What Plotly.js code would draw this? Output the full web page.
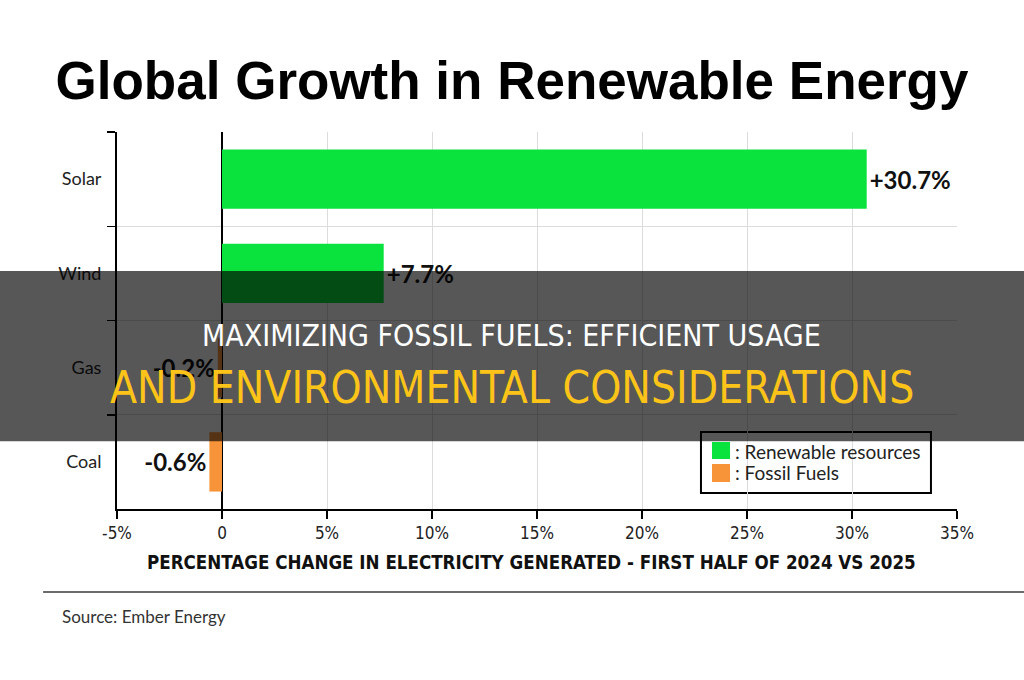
<!DOCTYPE html>
<html>
<head>
<meta charset="utf-8">
<script src="https://cdn.plot.ly/plotly-3.0.1.min.js"></script>
<style>html,body{margin:0;padding:0;background:#fff;}#chart{width:1024px;height:680px;}</style>
</head>
<body>
<div id="chart"></div>
<script>
// ---- data ----
var categories = ['Solar', 'Wind', 'Gas', 'Coal'];
var renewableCats = ['Solar', 'Wind'];
var renewableValues = [30.7, 7.7];
var fossilCats = ['Gas', 'Coal'];
var fossilValues = [-0.2, -0.6];
var xTickVals = [-5, 0, 5, 10, 15, 20, 25, 30, 35];
var xTickText = ['-5%', '0', '5%', '10%', '15%', '20%', '25%', '30%', '35%'];
var seriesNames = [': Renewable resources', ': Fossil Fuels'];

function fmt(v) { return (v > 0 ? '+' : '-') + Math.abs(v).toFixed(1) + '%'; }

var green = '#0ae23e';
var orange = '#f7943a';
var labelFont = {family: 'Lato, "Noto Sans", sans-serif', size: 24, color: '#111', weight: 700};
var legendFont = {family: 'Lato, "Noto Sans", sans-serif', size: 19, color: '#222'};

var traces = [
  {type: 'bar', orientation: 'h', name: seriesNames[0], y: renewableCats, x: renewableValues,
   marker: {color: green}, width: 0.63, text: renewableValues.map(fmt), textposition: 'outside',
   textfont: labelFont, cliponaxis: false, constraintext: 'none', hoverinfo: 'skip', showlegend: false},
  {type: 'bar', orientation: 'h', name: seriesNames[1], y: fossilCats, x: fossilValues,
   marker: {color: orange}, width: 0.63, text: fossilValues.map(fmt), textposition: 'outside',
   textfont: labelFont, cliponaxis: false, constraintext: 'none', hoverinfo: 'skip', showlegend: false}
];

var condensed = '"Liberation Sans Narrow", "DejaVu Sans Condensed", "Roboto", sans-serif';

var layout = {
  width: 1024, height: 680,
  margin: {l: 117, r: 67, t: 132, b: 171},
  paper_bgcolor: '#fff', plot_bgcolor: '#fff',
  barmode: 'overlay',
  showlegend: false,
  title: {text: 'Global Growth in Renewable Energy', x: 0.5, xref: 'container', xanchor: 'center',
          y: 1 - 80 / 680, yref: 'container', yanchor: 'middle',
          font: {family: '"Liberation Sans", Arial, sans-serif', size: 53, color: '#000', weight: 700}},
  xaxis: {range: [-5, 35], tickvals: xTickVals, ticktext: xTickText,
          showgrid: true, gridcolor: '#dcdcdc', gridwidth: 1,
          zeroline: true, zerolinecolor: '#000', zerolinewidth: 1.5,
          showline: true, linecolor: '#000', linewidth: 2,
          ticks: 'outside', ticklen: 8, tickwidth: 1.5, tickcolor: '#000',
          tickfont: {family: condensed, size: 17, color: '#222'}, fixedrange: true},
  yaxis: {type: 'category', categoryorder: 'array', categoryarray: categories, autorange: 'reversed',
          tickson: 'boundaries', showgrid: true, gridcolor: '#dcdcdc', gridwidth: 1,
          showline: true, linecolor: '#000', linewidth: 2,
          ticks: 'outside', ticklen: 8, tickwidth: 1.5, tickcolor: '#000', ticklabelstandoff: 10,
          tickfont: {family: 'Lato, "Noto Sans", sans-serif', size: 18, color: '#222'}, fixedrange: true},
  shapes: [
    // legend box
    {type: 'rect', xref: 'paper', yref: 'paper', x0: 0.6952, x1: 0.969, y0: 0.0424, y1: 0.2042,
     fillcolor: '#fff', line: {color: '#000', width: 2}, layer: 'between'},
    {type: 'rect', xref: 'paper', yref: 'paper', x0: 0.7083, x1: 0.7298, y0: 0.1326, y1: 0.1777,
     fillcolor: green, line: {width: 0}, layer: 'between'},
    {type: 'rect', xref: 'paper', yref: 'paper', x0: 0.7083, x1: 0.7298, y0: 0.0716, y1: 0.1194,
     fillcolor: orange, line: {width: 0}, layer: 'between'},
    // source separator
    {type: 'line', xref: 'paper', yref: 'paper', x0: -0.088, x1: 1.08, y0: -0.220, y1: -0.220,
     line: {color: '#6a6a6a', width: 2}},
    // headline overlay band
    {type: 'rect', xref: 'paper', yref: 'paper', x0: -0.15, x1: 1.09, y0: 0.180, y1: 0.631,
     fillcolor: 'rgba(0,0,0,0.66)', line: {width: 0}, layer: 'above'}
  ],
  annotations: [
    {text: seriesNames[0], xref: 'paper', yref: 'paper', x: 0.7333, y: 0.1512, xanchor: 'left', yanchor: 'middle',
     showarrow: false, font: legendFont},
    {text: seriesNames[1], xref: 'paper', yref: 'paper', x: 0.7333, y: 0.0955, xanchor: 'left', yanchor: 'middle',
     showarrow: false, font: legendFont},
    {text: 'PERCENTAGE CHANGE IN ELECTRICITY GENERATED - FIRST HALF OF 2024 VS 2025',
     xref: 'paper', yref: 'paper', x: 0.493, y: -0.143, xanchor: 'center', yanchor: 'middle', showarrow: false,
     font: {family: condensed, size: 18.6, color: '#111', weight: 700}},
    {text: 'Source: Ember Energy', xref: 'paper', yref: 'paper', x: -0.068, y: -0.284,
     xanchor: 'left', yanchor: 'middle', showarrow: false,
     font: {family: 'Lato, "Noto Sans", sans-serif', size: 17, color: '#333'}},
    {text: 'MAXIMIZING FOSSIL FUELS: EFFICIENT USAGE', xref: 'paper', yref: 'paper', x: 0.47, y: 0.4615,
     xanchor: 'center', yanchor: 'middle', showarrow: false,
     font: {family: condensed, size: 30, color: '#ffffff'}},
    {text: 'AND ENVIRONMENTAL CONSIDERATIONS', xref: 'paper', yref: 'paper', x: 0.47, y: 0.3236,
     xanchor: 'center', yanchor: 'middle', showarrow: false,
     font: {family: condensed, size: 44, color: '#fcc419'}}
  ]
};

Plotly.newPlot('chart', traces, layout, {staticPlot: true, displayModeBar: false});
</script>
</body>
</html>
